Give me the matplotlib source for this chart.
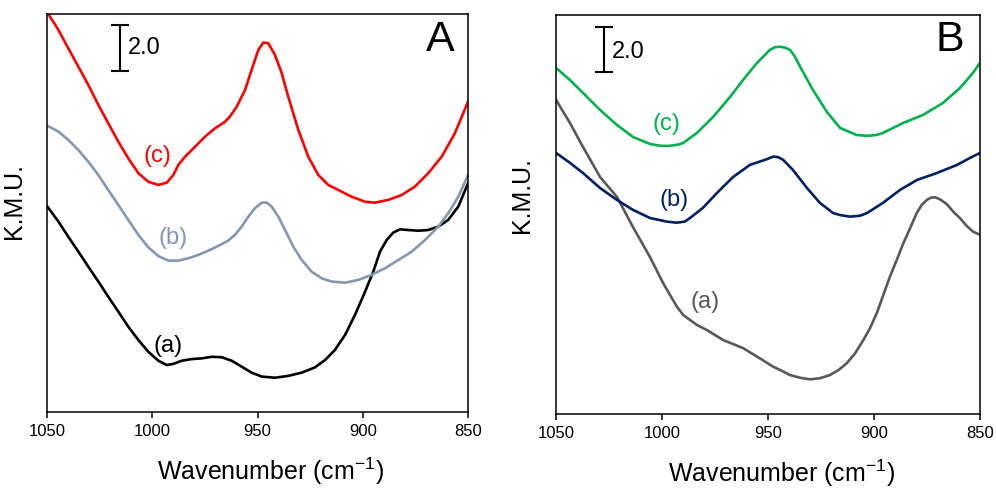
import matplotlib
matplotlib.use("Agg")
import matplotlib.pyplot as plt

plt.rcParams['font.family'] = ['Liberation Sans', 'DejaVu Sans']
plt.rcParams['mathtext.fontset'] = 'custom'
plt.rcParams['mathtext.rm'] = 'Liberation Sans'

# panel A spectra (wavenumber, K.M.U.)
a_wn = [1050, 1044.6, 1039.9, 1035.1, 1030.4, 1025.6, 1020.9, 1016.1, 1011.4, 1006.6,
        1001.9, 997.1, 993.1, 990.0, 986.0, 981.3, 976.5, 971.8, 967.0, 962.3,
        957.5, 952.8, 948.0, 941.7, 935.4, 929.0, 922.7, 917.9, 913.2, 908.4,
        903.7, 898.9, 895.0, 891.8, 888.6, 885.5, 882.3, 878.4, 873.6, 868.9,
        864.1, 859.4, 854.6, 850]
a_km = [8.95, 8.28, 7.62, 6.97, 6.32, 5.67, 5.01, 4.36, 3.71, 3.13,
        2.62, 2.23, 2.04, 2.09, 2.23, 2.30, 2.33, 2.40, 2.38, 2.23,
        1.97, 1.71, 1.54, 1.49, 1.57, 1.71, 1.94, 2.26, 2.70, 3.35,
        4.22, 5.23, 6.10, 6.97, 7.48, 7.80, 7.94, 7.91, 7.88, 7.91,
        8.06, 8.35, 8.93, 9.94]

b_wn = [1050, 1044.6, 1039.9, 1035.1, 1030.4, 1025.6, 1020.9, 1016.1, 1011.4, 1006.6,
        1001.9, 997.1, 992.4, 987.6, 982.9, 978.1, 973.4, 968.6, 963.9, 960.7,
        957.5, 954.4, 951.2, 948.0, 945.6, 943.3, 940.1, 936.9, 933.0, 929.0,
        924.3, 919.5, 914.8, 908.4, 902.1, 895.8, 889.4, 883.1, 876.7, 870.4,
        864.1, 859.4, 854.6, 850]
b_km = [12.45, 12.19, 11.83, 11.39, 10.88, 10.30, 9.65, 9.00, 8.35, 7.70,
        7.16, 6.78, 6.58, 6.58, 6.68, 6.83, 7.01, 7.22, 7.45, 7.70,
        8.06, 8.49, 8.86, 9.10, 9.10, 8.93, 8.49, 7.91, 7.19, 6.61,
        6.10, 5.81, 5.67, 5.62, 5.74, 5.96, 6.25, 6.61, 6.97, 7.48,
        8.06, 8.64, 9.36, 10.30]

c_wn = [1050, 1048.6, 1044.6, 1039.9, 1035.1, 1030.4, 1025.6, 1020.9, 1016.1, 1011.4,
        1006.6, 1001.9, 997.1, 993.1, 990.0, 987.6, 984.4, 979.7, 974.9, 970.2,
        965.4, 963.1, 959.9, 955.9, 952.8, 949.6, 947.2, 944.9, 941.7, 938.5,
        935.4, 930.6, 925.9, 921.1, 916.4, 911.6, 905.3, 898.9, 894.2, 887.9,
        881.5, 875.2, 868.9, 862.5, 856.2, 850]
c_km = [17.40, 17.19, 16.61, 15.81, 15.01, 14.22, 13.35, 12.55, 11.75, 11.03,
        10.38, 10.01, 9.87, 9.97, 10.30, 10.74, 11.10, 11.53, 11.97, 12.33,
        12.62, 12.84, 13.27, 14.00, 14.87, 15.74, 16.06, 16.03, 15.52, 14.73,
        13.71, 12.26, 11.10, 10.30, 9.87, 9.65, 9.36, 9.14, 9.10, 9.22,
        9.43, 9.80, 10.38, 11.10, 12.12, 13.49]

# panel B spectra
ba_wn = [1050, 1043.4, 1037.3, 1029.2, 1021.2, 1013.7, 1005.7, 999.5, 992.9, 990.0,
         986.8, 983.6, 978.8, 971.2, 961.8, 953.8, 950.6, 947.5, 943.5, 939.6,
         934.9, 930.2, 925.5, 920.8, 916.8, 912.9, 908.9, 905.0, 901.9, 898.7,
         895.6, 892.5, 889.3, 886.2, 883.0, 879.9, 877.5, 875.1, 873.3, 871.2,
         868.9, 865.7, 862.6, 859.4, 856.3, 853.2, 850]
ba_km = [13.96, 12.93, 11.87, 10.53, 9.64, 8.31, 6.98, 5.82, 4.76, 4.40,
         4.18, 3.96, 3.73, 3.29, 2.93, 2.47, 2.28, 2.10, 1.92, 1.73,
         1.61, 1.54, 1.59, 1.73, 1.95, 2.25, 2.70, 3.29, 3.81, 4.48,
         5.29, 6.10, 6.84, 7.58, 8.25, 8.92, 9.29, 9.51, 9.61, 9.63,
         9.54, 9.33, 8.99, 8.70, 8.36, 8.10, 7.96]

bb_wn = [1050, 1043.4, 1037.3, 1029.2, 1021.2, 1013.7, 1005.7, 997.8, 993.1, 989.2,
         986.8, 980.7, 974.1, 966.5, 958.5, 950.6, 947.5, 945.1, 942.8, 938.2,
         931.6, 925.5, 919.3, 916.0, 911.3, 906.6, 903.3, 895.8, 887.7, 879.7,
         870.3, 860.8, 854.7, 850]
bb_km = [11.60, 11.16, 10.71, 10.04, 9.51, 9.07, 8.71, 8.55, 8.50, 8.55,
         8.71, 9.16, 9.82, 10.53, 11.07, 11.32, 11.44, 11.41, 11.29, 10.84,
         10.04, 9.38, 8.93, 8.84, 8.77, 8.81, 8.93, 9.38, 9.96, 10.40,
         10.71, 11.07, 11.38, 11.60]

bc_wn = [1050, 1043.4, 1037.3, 1029.2, 1021.2, 1013.7, 1005.7, 1000.9, 997.0, 992.3,
         990.1, 983.5, 975.9, 967.9, 961.8, 955.2, 949.1, 946.7, 944.3, 942.0,
         939.6, 937.3, 934.9, 928.8, 922.2, 916.0, 908.2, 903.4, 898.7, 895.8,
         886.3, 876.9, 867.5, 859.4, 853.3, 850]
bc_km = [15.38, 14.84, 14.27, 13.51, 12.84, 12.31, 12.00, 11.92, 11.91, 11.97,
         12.04, 12.49, 13.20, 14.09, 14.84, 15.60, 16.18, 16.30, 16.32, 16.28,
         16.18, 15.88, 15.44, 14.40, 13.42, 12.71, 12.40, 12.36, 12.40, 12.49,
         12.93, 13.29, 13.82, 14.49, 15.16, 15.60]

ticks = [1050, 1000, 950, 900, 850]

fig = plt.figure(figsize=(9.96, 4.88), dpi=100)
axA = fig.add_axes([47/996, 76/488, 421/996, 398/488])
axB = fig.add_axes([556/996, 74/488, 424/996, 399/488])

lw = 1.9
axA.plot(a_wn, a_km, color='black', lw=lw)
axA.plot(b_wn, b_km, color='#8497B0', lw=lw)
axA.plot(c_wn, c_km, color='#FF0000', lw=lw)
axB.plot(ba_wn, ba_km, color='#595959', lw=lw)
axB.plot(bb_wn, bb_km, color='#002060', lw=lw)
axB.plot(bc_wn, bc_km, color='#00B050', lw=lw)

axA.set_ylim(0, 17.3)
axB.set_ylim(0, 17.73)

for ax in (axA, axB):
    ax.set_xlim(1050, 850)
    ax.set_xticks(ticks)
    ax.set_yticks([])
    ax.tick_params(axis='x', direction='out', length=4, width=1.1, labelsize=12, pad=5)
    for s in ax.spines.values():
        s.set_linewidth(1.1)
    ax.set_xlabel('Wavenumber (cm$^{-1}$)', fontsize=18)
    ax.set_ylabel('K.M.U.', fontsize=18)

axA.xaxis.set_label_coords(0.532, -0.11)
axB.xaxis.set_label_coords(0.533, -0.11)
axA.yaxis.set_label_coords(-0.05, 0.53)
axB.yaxis.set_label_coords(-0.052, 0.55)

# scale bars
axA.plot([1015.3, 1015.3], [14.83, 16.83], color='black', lw=1.5,
         marker='_', ms=13, mew=1.5)
axA.text(1011.5, 15.83, '2.0', fontsize=17, ha='left', va='center')
axB.plot([1027.4, 1027.4], [15.2, 17.2], color='black', lw=1.5,
         marker='_', ms=13, mew=1.5)
axB.text(1023.6, 16.09, '2.0', fontsize=17, ha='left', va='center')

# curve labels
axA.text(997.7, 11.13, '(c)', color='#FF0000', fontsize=17, ha='center', va='center')
axA.text(990.1, 7.57, '(b)', color='#8497B0', fontsize=17, ha='center', va='center')
axA.text(992.5, 2.87, '(a)', color='black', fontsize=17, ha='center', va='center')
axB.text(998.1, 12.89, '(c)', color='#00B050', fontsize=17, ha='center', va='center')
axB.text(994.3, 9.51, '(b)', color='#002060', fontsize=17, ha='center', va='center')
axB.text(979.7, 4.98, '(a)', color='#595959', fontsize=17, ha='center', va='center')

axA.text(0.933, 0.935, 'A', transform=axA.transAxes, fontsize=31, ha='center', va='center')
axB.text(0.929, 0.937, 'B', transform=axB.transAxes, fontsize=31, ha='center', va='center')

fig.savefig('out.png', dpi=100)
